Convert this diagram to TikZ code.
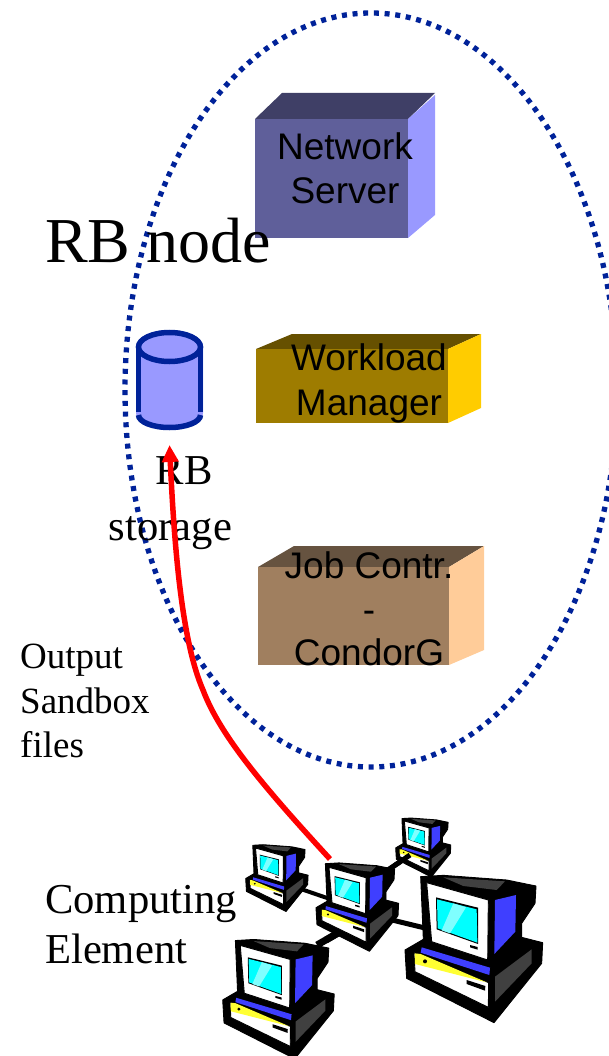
\documentclass[tikz,border=0pt]{standalone}
\usepackage{fontspec}
\setmainfont{Liberation Serif}
\newfontfamily\labelsans{Liberation Sans}
\usetikzlibrary{arrows.meta}
\definecolor{dotblue}{HTML}{002299}
\definecolor{cylfill}{HTML}{9999FF}
\definecolor{nsfront}{HTML}{5F5F9A}\definecolor{nstop}{HTML}{3F3F66}\definecolor{nsside}{HTML}{9999FF}
\definecolor{wmfront}{HTML}{9E7C00}\definecolor{wmtop}{HTML}{665000}\definecolor{wmside}{HTML}{FFCC00}
\definecolor{jcfront}{HTML}{A07F5F}\definecolor{jctop}{HTML}{665340}\definecolor{jcside}{HTML}{FFCC99}
\definecolor{pcblue}{HTML}{3F3FFF}\definecolor{pccyan}{HTML}{00FFFF}\definecolor{pclight}{HTML}{7FFFFF}
\definecolor{pcyellow}{HTML}{FFFF33}\definecolor{pcdark}{HTML}{404040}
\tikzset{
  serifbig/.style={font=\fontsize{64}{64}\selectfont,inner sep=0pt,anchor=base west},
  serifmid/.style={font=\fontsize{42.6}{42.6}\selectfont,inner sep=0pt},
  serifsmall/.style={font=\fontsize{37}{37}\selectfont,inner sep=0pt,anchor=base west},
  boxlabel/.style={font=\labelsans\fontsize{37}{37}\selectfont,inner sep=0pt,anchor=base,text=black},
  wire/.style={black,line width=#1},
  pcline/.style={draw=black,line width=0.9pt,line join=round},
}
% \pcicon{x}{y}{scale}: coordinates are those of the big computer, in 3x units
\newcommand{\pcicon}[3]{%
\begin{scope}[shift={(#1,#2)},scale=#3/3,shift={(-585,-228)}]
  \fill[black,pcline] (632,230)--(700,226)--(890,240)--(978,258)--(975,310)--(935,370)--(935,412)--(998,428)--(995,490)--(852,668)--(590,535)--(585,450)--(640,418)--cycle;
  \fill[pcdark] (700,232)--(885,244)--(860,270)--(760,258)--cycle;
  \fill[white,pcline] (650,248)--(835,300)--(833,480)--(665,425)--cycle;
  \fill[black] (678,292)--(804,323)--(804,432)--(680,388)--cycle;
  \fill[pccyan] (681,298)--(800,328)--(802,428)--(683,385)--cycle;
  \fill[pclight] (730,310)--(768,322)--(720,400)--(695,391)--cycle;
  \fill[black] (780,435)--(803,441)--(803,449)--(780,442)--cycle;
  \fill[pcblue] (855,300)--(918,285)--(916,395)--(853,462)--cycle;
  \fill[pcblue] (635,442)--(840,503)--(838,525)--(632,458)--cycle;
  \fill[white,pcline] (612,458)--(836,548)--(835,622)--(615,515)--cycle;
  \fill[pcyellow] (614,460)--(632,462)--(830,547)--(615,492)--cycle;
  \fill[black] (645,484) circle (6);
  \fill[black] (770,540)--(826,558)--(825,572)--(770,552)--cycle;
  \fill[pcdark] (855,530)--(965,448)--(965,490)--(855,605)--cycle;
\end{scope}}
\begin{document}
\begin{tikzpicture}[x=1pt,y=-1pt]
\useasboundingbox (0,0) rectangle (608,1056);
% dotted ellipse
\draw[dotblue,line width=5.3pt,dash pattern=on 5pt off 5.7pt] (371,390) ellipse [x radius=246,y radius=377];
% network server
\fill[nstop] (255,119)--(282,93)--(435,93)--(408,119)--cycle;
\fill[nsside] (408,119)--(435,95)--(435,215)--(408,238)--cycle;
\fill[nsfront] (255,119) rectangle (408,238);
\node[boxlabel] (ns1) at (345,160) {Network};
\node[boxlabel] (ns2) at (345,204) {Server};
% workload manager
\fill[wmtop] (256,349)--(292,334)--(481,334)--(448,349)--cycle;
\fill[wmside] (448,349)--(481,334)--(481,408)--(448,423)--cycle;
\fill[wmfront] (256,349) rectangle (448,423);
\node[boxlabel] (wm1) at (369,370) {Workload};
\node[boxlabel] (wm2) at (369,415) {Manager};
% job controller
\fill[jctop] (258,567)--(294,546)--(484,546)--(449,567)--cycle;
\fill[jcside] (449,567)--(484,546)--(484,650)--(449,665)--cycle;
\fill[jcfront] (258,567) rectangle (449,665);
\node[boxlabel] (jc1) at (369,578) {Job Contr.};
\node[boxlabel] (jc2) at (369,622) {-};
\node[boxlabel] (jc3) at (369,665) {CondorG};
% RB storage cylinder
\fill[cylfill] (136,347) arc [start angle=180,end angle=360,x radius=33.5,y radius=17] -- (203,413) arc [start angle=0,end angle=180,x radius=33.5,y radius=17] -- cycle;
\draw[dotblue,line width=5.5pt] (169.5,347) ellipse [x radius=31,y radius=14.5];
\draw[dotblue,line width=5.5pt] (138.5,347) -- (138.5,412) (200.5,347) -- (200.5,412);
\draw[dotblue,line width=5.5pt] (138.5,415) arc [start angle=180,end angle=0,x radius=31,y radius=12.5];
\coordinate (store) at (169.5,445);
% texts
\node[serifbig] (rbnode) at (45,262) {RB node};
\node[serifmid,anchor=base] (rb) at (184,484) {RB};
\node[serifmid,anchor=base] (storage) at (170.5,540) {storage};
\node[serifsmall] (o1) at (20,668) {Output};
\node[serifsmall] (o2) at (20,713) {Sandbox};
\node[serifsmall] (o3) at (20,757) {files};
\node[serifmid,anchor=base west] (ce1) at (45,913) {Computing};
\node[serifmid,anchor=base west] (ce2) at (45,963) {Element};
% network of computers
\coordinate (pcleft) at (298,888);
\coordinate (pctop) at (410,855);
\coordinate (pcbig) at (425,928);
\coordinate (pcbl) at (317,945);
\coordinate (hubL) at (330,899);
\coordinate (hubT) at (388,870);
\coordinate (hubR) at (392,920);
\coordinate (hubB) at (338,933);
\draw[wire=4pt] (pcleft) -- (hubL);
\draw[wire=5pt] (hubT) -- (pctop);
\draw[wire=5pt] (hubR) -- (pcbig);
\draw[wire=7pt] (hubB) -- (pcbl);
\pcicon{245.7}{845}{0.453}
\pcicon{395.7}{818.3}{0.4}
\pcicon{405}{876}{1}
\pcicon{316}{863.3}{0.6}
\pcicon{222.7}{940}{0.81}
\draw[wire=7pt] (hubB) -- (326,940);
\draw[wire=5pt] (hubT) -- (pctop);
% red arrow
\coordinate (redstart) at (330,859);
\draw[red,line width=5.5pt,-{Triangle[length=17pt,width=16pt]}] (redstart) .. controls (262,785) and (220,735) .. (203,690) .. controls (181,640) and (174,540) .. (store);
\end{tikzpicture}
\end{document}
